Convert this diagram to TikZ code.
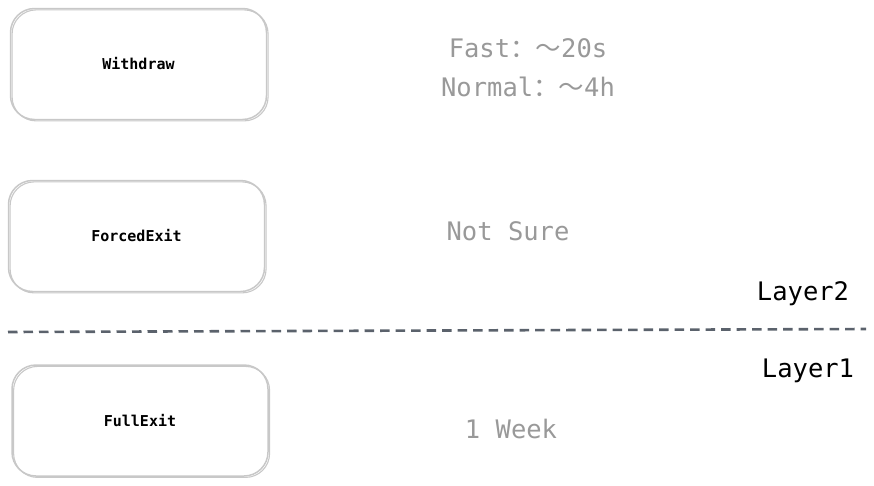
\documentclass[tikz,border=0pt]{standalone}
\usepackage{fontspec}
\setmonofont{DejaVu Sans Mono}
\newfontfamily\cjk{Noto Sans CJK SC}
\definecolor{boxgray}{HTML}{C8C8C8}
\definecolor{txtgray}{HTML}{999999}
\definecolor{dashgray}{HTML}{5B626C}
\tikzset{
  sketchbox/.style={draw=boxgray, line width=1.5pt, rounded corners=24pt,
    minimum width=256pt, minimum height=111pt, inner sep=0pt,
    font=\ttfamily\bfseries\fontsize{15}{17}\selectfont, text=black,
    postaction={draw=boxgray, line width=1.1pt, transform canvas={shift={(1.6pt,-1.4pt)}}}},
  graytxt/.style={inner sep=0pt, text=txtgray, font=\ttfamily\fontsize{25.5}{28}\selectfont},
  layertxt/.style={inner sep=0pt, text=black, font=\ttfamily\fontsize{25.5}{28}\selectfont},
  sep/.style={draw=dashgray, line width=2.6pt, dash pattern=on 9.5pt off 6pt}
}
\begin{document}
\begin{tikzpicture}[x=1pt,y=-1pt]
\useasboundingbox (0,0) rectangle (874,485);
\node[sketchbox] (withdraw) at (138.5,64) {Withdraw};
\node[sketchbox] (forced) at (136.5,236) {ForcedExit};
\node[sketchbox] (full) at (140,420.5) {FullExit};
\node[graytxt] (fast) at (528,48) {Fast{\cjk ：～}20s};
\node[graytxt] (normal) at (528,87) {Normal{\cjk ：～}4h};
\node[graytxt] (notsure) at (508,231) {Not Sure};
\node[graytxt] (week) at (511,429) {1 Week};
\node[layertxt] (layer2) at (803,294) {Layer2};
\node[layertxt] (layer1) at (808,371) {Layer1};
\coordinate (sepL) at (8,332);
\coordinate (sepR) at (866,329);
\draw[sep] (sepL) -- (sepR);
\end{tikzpicture}
\end{document}
